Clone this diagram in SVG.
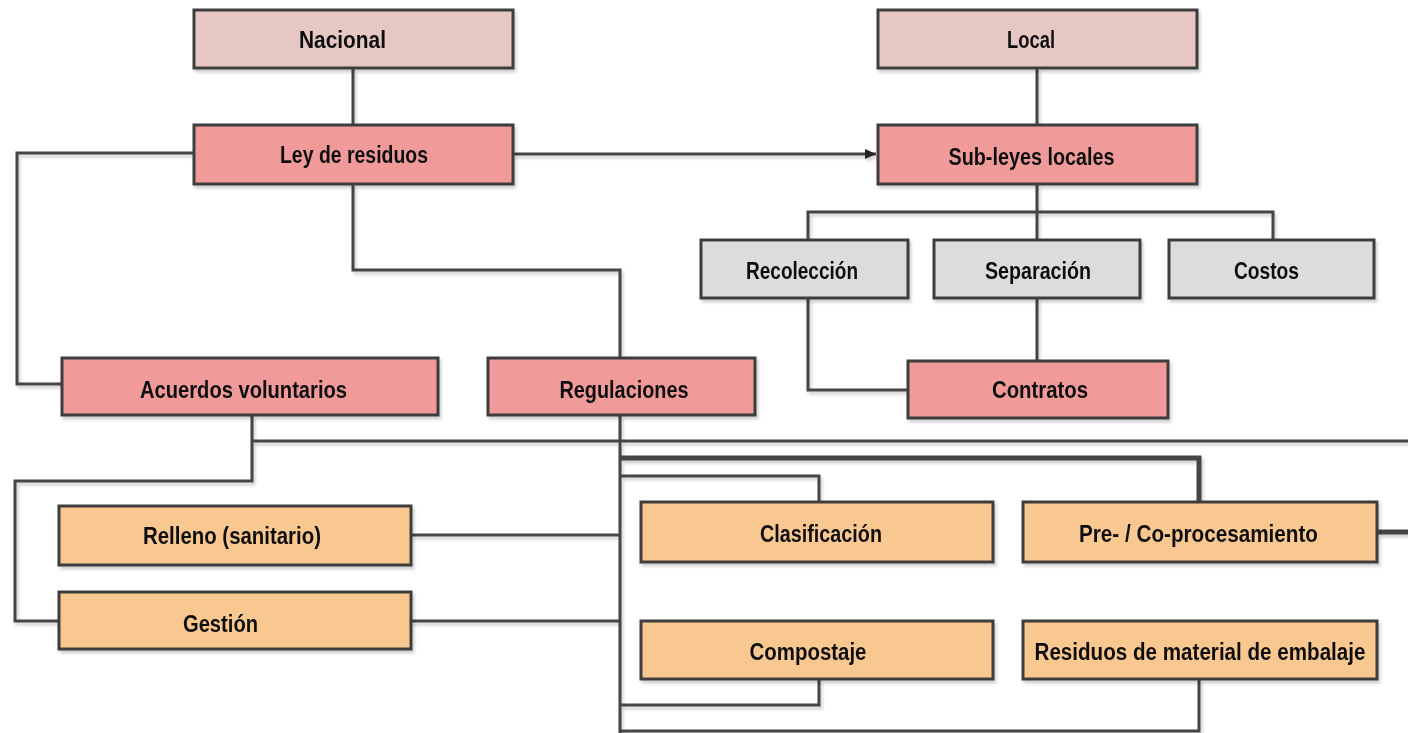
<svg xmlns="http://www.w3.org/2000/svg" width="1408" height="733" viewBox="0 0 1408 733">
<defs>
<filter id="sh" x="-5%" y="-20%" width="115%" height="150%">
<feDropShadow dx="2" dy="3" stdDeviation="1.5" flood-color="#000" flood-opacity="0.18"/>
</filter>
<marker id="arr" markerWidth="12" markerHeight="12" refX="11" refY="6" orient="auto" markerUnits="userSpaceOnUse">
<path d="M0,1 L11,6 L0,11 Z" fill="#222"/>
</marker>
</defs>
<style>
rect{stroke:#3e3e3e;stroke-width:3}
.top{fill:#e6c7c3}
.red{fill:#f09b9a}
.gry{fill:#dcdcdc}
.org{fill:#f9c890}
text{font-family:"Liberation Sans",Arial,sans-serif;font-weight:bold;font-size:23px;fill:#111;text-anchor:middle}
.c{fill:none;stroke:#444;stroke-width:3}
.t{fill:none;stroke:#444;stroke-width:5}
</style>
<g id="connectors" filter="url(#sh)">
<path class="c" d="M353,68 V125"/>
<path class="c" d="M1037,68 V125"/>
<path class="c" d="M513,154 H876" marker-end="url(#arr)"/>
<path class="c" d="M193,153 H17 V384 H62"/>
<path class="c" d="M353,185 V270 H620 V358"/>
<path class="c" d="M1037,185 V240"/>
<path class="c" d="M808,240 V212 H1273 V240"/>
<path class="c" d="M808,298 V390 H908"/>
<path class="c" d="M1037,298 V361"/>
<path class="c" d="M252,415 V481 H15 V621 H58"/>
<path class="c" d="M252,441 H1408"/>
<path class="c" d="M620,415 V733"/>
<path class="c" d="M411,535 H620"/>
<path class="c" d="M411,621 H620"/>
<path class="t" d="M620,458 H1199 V502"/>
<path class="c" d="M620,476 H819 V502"/>
<path class="t" d="M1377,532 H1408"/>
<path class="c" d="M819,679 V705 H620"/>
<path class="c" d="M1199,679 V731 H620"/>
</g>
<g id="n-nacional" filter="url(#sh)"><rect class="top" x="194" y="10" width="319" height="58"/><text x="342.5" y="48" textLength="87" lengthAdjust="spacingAndGlyphs">Nacional</text></g>
<g id="n-local" filter="url(#sh)"><rect class="top" x="878" y="10" width="319" height="58"/><text x="1031" y="48" textLength="48" lengthAdjust="spacingAndGlyphs">Local</text></g>
<g id="n-ley" filter="url(#sh)"><rect class="red" x="194" y="125" width="319" height="59"/><text x="354" y="163" textLength="148" lengthAdjust="spacingAndGlyphs">Ley de residuos</text></g>
<g id="n-subleyes" filter="url(#sh)"><rect class="red" x="878" y="125" width="319" height="59"/><text x="1031.5" y="165" textLength="166" lengthAdjust="spacingAndGlyphs">Sub-leyes locales</text></g>
<g id="n-recoleccion" filter="url(#sh)"><rect class="gry" x="701" y="240" width="207" height="58"/><text x="802" y="279" textLength="112" lengthAdjust="spacingAndGlyphs">Recolección</text></g>
<g id="n-separacion" filter="url(#sh)"><rect class="gry" x="934" y="240" width="206" height="58"/><text x="1038" y="279" textLength="106" lengthAdjust="spacingAndGlyphs">Separación</text></g>
<g id="n-costos" filter="url(#sh)"><rect class="gry" x="1169" y="240" width="205" height="58"/><text x="1266.5" y="279" textLength="65" lengthAdjust="spacingAndGlyphs">Costos</text></g>
<g id="n-contratos" filter="url(#sh)"><rect class="red" x="908" y="361" width="260" height="57"/><text x="1040" y="398" textLength="96" lengthAdjust="spacingAndGlyphs">Contratos</text></g>
<g id="n-acuerdos" filter="url(#sh)"><rect class="red" x="62" y="358" width="376" height="57"/><text x="243.5" y="398" textLength="207" lengthAdjust="spacingAndGlyphs">Acuerdos voluntarios</text></g>
<g id="n-regulaciones" filter="url(#sh)"><rect class="red" x="488" y="358" width="267" height="57"/><text x="624" y="398" textLength="129" lengthAdjust="spacingAndGlyphs">Regulaciones</text></g>
<g id="n-relleno" filter="url(#sh)"><rect class="org" x="59" y="506" width="352" height="59"/><text x="232" y="544" textLength="178" lengthAdjust="spacingAndGlyphs">Relleno (sanitario)</text></g>
<g id="n-gestion" filter="url(#sh)"><rect class="org" x="59" y="592" width="352" height="57"/><text x="220.5" y="632" textLength="75" lengthAdjust="spacingAndGlyphs">Gestión</text></g>
<g id="n-clasificacion" filter="url(#sh)"><rect class="org" x="641" y="502" width="352" height="60"/><text x="821" y="542" textLength="122" lengthAdjust="spacingAndGlyphs">Clasificación</text></g>
<g id="n-preco" filter="url(#sh)"><rect class="org" x="1023" y="502" width="354" height="60"/><text x="1198.5" y="542" textLength="239" lengthAdjust="spacingAndGlyphs">Pre- / Co-procesamiento</text></g>
<g id="n-compostaje" filter="url(#sh)"><rect class="org" x="641" y="621" width="352" height="58"/><text x="808" y="660" textLength="117" lengthAdjust="spacingAndGlyphs">Compostaje</text></g>
<g id="n-residuos" filter="url(#sh)"><rect class="org" x="1023" y="621" width="354" height="58"/><text x="1200" y="660" textLength="331" lengthAdjust="spacingAndGlyphs">Residuos de material de embalaje</text></g>
</svg>
